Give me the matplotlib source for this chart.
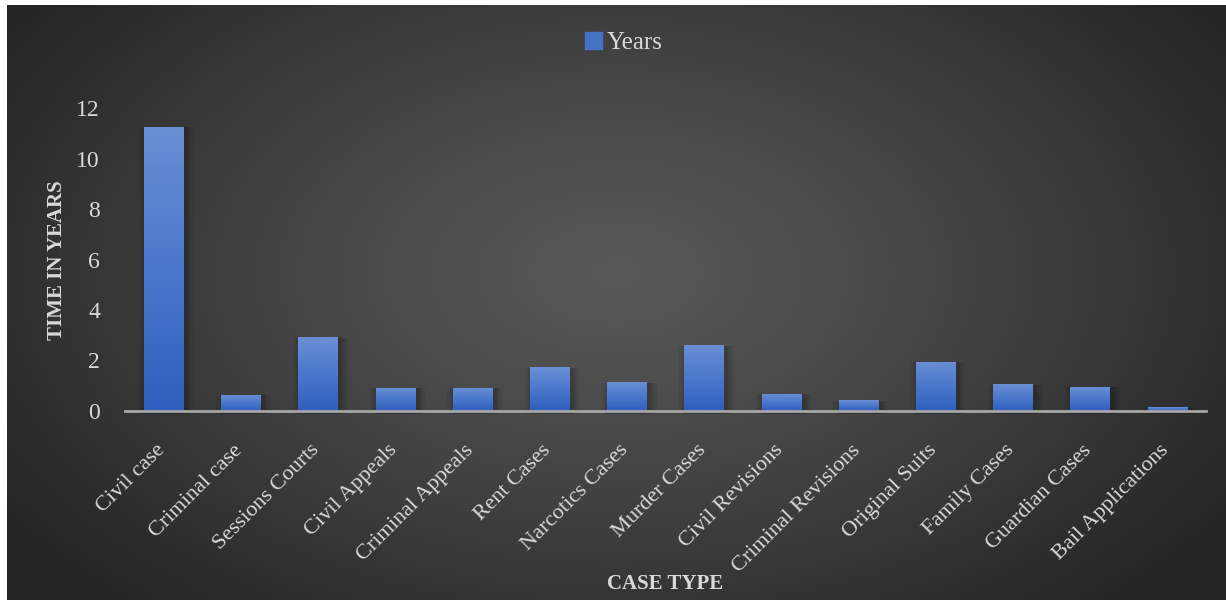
import numpy as np
import matplotlib
matplotlib.use("Agg")
import matplotlib.pyplot as plt
from matplotlib.colors import LinearSegmentedColormap
from matplotlib.transforms import ScaledTranslation

categories = ["Civil case", "Criminal case", "Sessions Courts", "Civil Appeals",
              "Criminal Appeals", "Rent Cases", "Narcotics Cases", "Murder Cases",
              "Civil Revisions", "Criminal Revisions", "Original Suits",
              "Family Cases", "Guardian Cases", "Bail Applications"]
years = [11.25, 0.65, 2.92, 0.93, 0.93, 1.73, 1.13, 2.6, 0.69, 0.42, 1.96, 1.05, 0.97, 0.14]
yticks = [0, 2, 4, 6, 8, 10, 12]

W, H = 1226, 600
fig = plt.figure(figsize=(W / 100, H / 100), dpi=100)
fig.patch.set_facecolor("white")
plt.rcParams["font.family"] = ["Liberation Serif", "DejaVu Serif"]

# background radial gradient
bg = fig.add_axes([7 / W, 0, 1 - 7 / W, 1 - 5 / H])
bg.set_axis_off()
gx, gy = np.meshgrid(np.linspace(0, 1, 400), np.linspace(0, 1, 200))
cx, cy = 0.5, 0.45
d = np.sqrt(((gx - cx) / 0.6) ** 2 + ((gy - cy) / 0.75) ** 2)
d = np.clip(d, 0, 1)
val = 0.345 - (0.345 - 0.145) * d ** 1.2
bg.imshow(np.dstack([val, val, val]), aspect="auto", extent=[0, 1, 0, 1], origin="upper")
bg.set_xlim(0, 1)
bg.set_ylim(0, 1)

left, right = 125 / W, 1206 / W
bottom, top = (H - 411) / H, (H - 108) / H
ax = fig.add_axes([left, bottom, right - left, top - bottom])
ax.patch.set_alpha(0)

x = np.arange(len(categories))
bars = ax.bar(x, years, width=0.51, color="#4472c4", label="Years", zorder=2)

grad_cmap = LinearSegmentedColormap.from_list("g", ["#2f5fbd", "#4a78cc", "#6a8fd4"])
grad = np.linspace(0, 1, 256).reshape(-1, 1)
for b in bars:
    bx, by = b.get_x(), b.get_y()
    bw, bh = b.get_width(), b.get_height()
    for k, a in [(0.10, 0.06), (0.06, 0.08), (0.03, 0.10)]:
        sh = plt.Rectangle((bx - k + 0.03, by - 0.1), bw + 2 * k, bh + 0.1 - k * 0.3,
                           color="black", alpha=a, zorder=1, clip_on=False, lw=0)
        ax.add_patch(sh)
    im = ax.imshow(grad, extent=[bx, bx + bw, by, by + bh], origin="lower",
                   cmap=grad_cmap, aspect="auto", zorder=3)
    im.set_clip_path(b)
ax.set_xlim(-0.5, len(categories) - 0.5)
ax.set_ylim(0, 12)

for s in ["top", "right", "left"]:
    ax.spines[s].set_visible(False)
ax.spines["bottom"].set_color("#a6a6a6")
ax.spines["bottom"].set_linewidth(2)
ax.spines["bottom"].set_zorder(4)

ax.set_yticks(yticks)
ax.set_yticklabels([str(v) for v in yticks], fontsize=17, color="#d9d9d9")
ax.tick_params(axis="y", length=0, pad=18)
ax.set_xticks(x)
ax.set_xticklabels(categories, rotation=45, ha="right", va="top", rotation_mode="anchor",
                   fontsize=16, color="#d9d9d9")
ax.tick_params(axis="x", length=0, pad=10)
off = ScaledTranslation(-8 / 100, -16 / 100, fig.dpi_scale_trans)
for lab in ax.get_xticklabels():
    lab.set_transform(lab.get_transform() + off)

fig.text(57 / W, 1 - 260 / H, "TIME IN YEARS", rotation=90, ha="center", va="center",
         fontsize=15, fontweight="bold", color="#d9d9d9")
fig.text(665 / W, 1 - 584 / H, "CASE TYPE", ha="center", va="center",
         fontsize=15, fontweight="bold", color="#d9d9d9")

leg = fig.legend(handles=[bars], labels=["Years"], loc="center", bbox_to_anchor=(624 / W, 1 - 43 / H),
                 frameon=False, fontsize=18, handlelength=0.65, handleheight=0.65,
                 handletextpad=0.2, labelcolor="#d9d9d9")
leg.legend_handles[0].set_color("#4472c4")

fig.savefig("out.png", dpi=100, facecolor=fig.get_facecolor())
